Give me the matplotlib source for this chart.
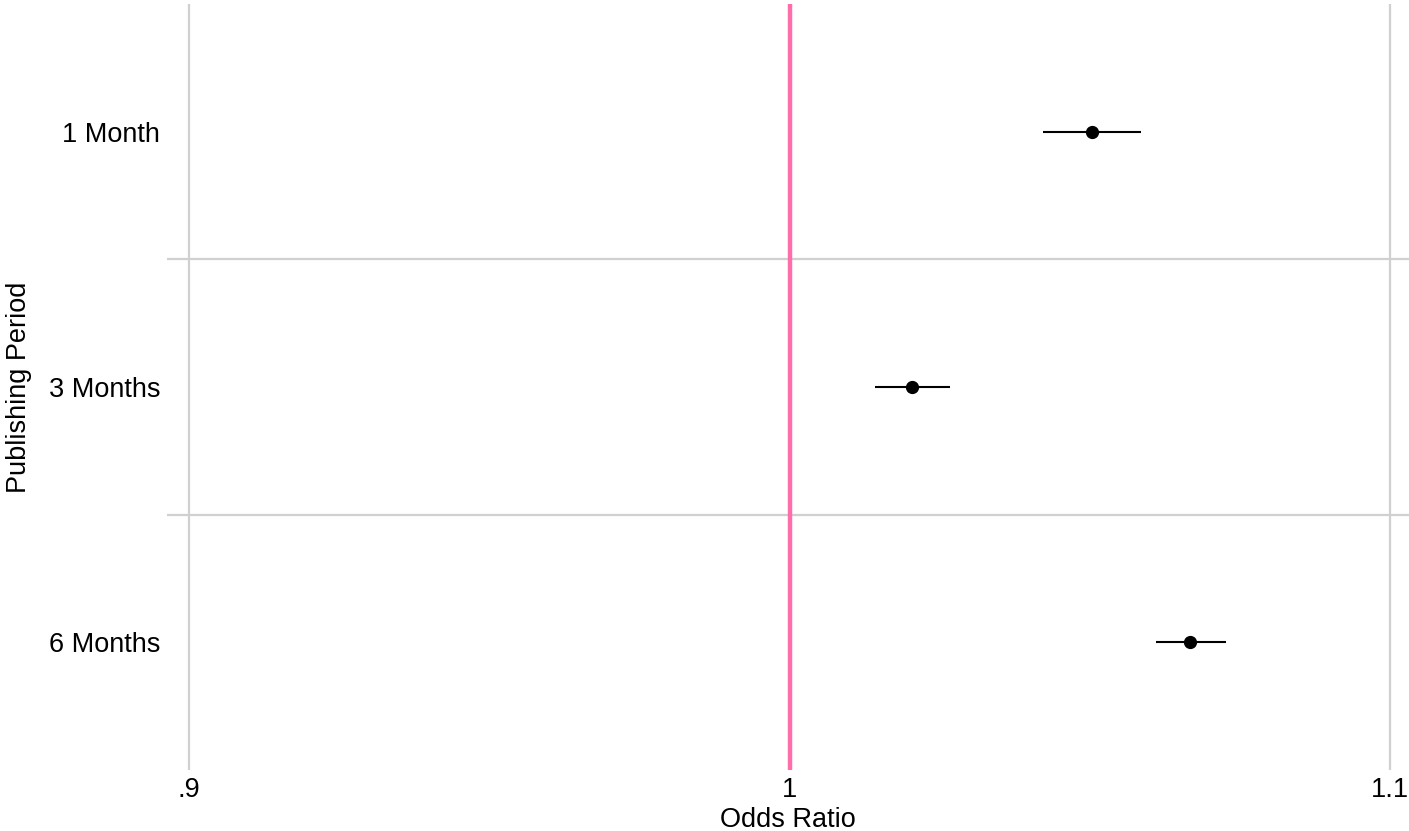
import matplotlib
matplotlib.use("Agg")
import matplotlib.pyplot as plt

categories = ["1 Month", "3 Months", "6 Months"]
odds_ratio = [1.0504, 1.0204, 1.0667]
ci_low = [1.0422, 1.0142, 1.0610]
ci_high = [1.0585, 1.0267, 1.0727]
xticks = [0.9, 1.0, 1.1]
xtick_labels = [".9", "1", "1.1"]

plt.rcParams['font.family'] = ['Liberation Sans', 'DejaVu Sans']
W, H, DPI = 1409, 831, 100
FS = 19.5
fig = plt.figure(figsize=(W / DPI, H / DPI), dpi=DPI)
ax = fig.add_axes([167 / W, 1 - 770 / H, (1409 - 167) / W, (770 - 4) / H])

ypos = list(range(1, len(categories) + 1))
ax.set_ylim(len(categories) + 0.5, 0.5)
ax.set_xlim(0.89634, 1.10316)

# grid
for x in xticks:
    if x != 1.0:
        ax.axvline(x, color="#d0d0d0", lw=1.6, zorder=0)
for y in [1.5, 2.5]:
    ax.axhline(y, color="#d0d0d0", lw=1.6, zorder=0)
ax.axvline(1.0, color="#ff6eaa", lw=3.2, zorder=1)

xerr = [[o - l for o, l in zip(odds_ratio, ci_low)], [h - o for o, h in zip(odds_ratio, ci_high)]]
ax.errorbar(odds_ratio, ypos, xerr=xerr, fmt="o", color="black", ms=8.5,
            elinewidth=1.5, capsize=0, zorder=3)

ax.set_xticks(xticks)
ax.set_xticklabels(xtick_labels)
ax.set_yticks(ypos)
ax.set_yticklabels(categories)
ax.tick_params(axis="both", length=0, labelsize=FS, colors="black")
ax.tick_params(axis="x", pad=5)
ax.tick_params(axis="y", pad=5)
for s in ax.spines.values():
    s.set_visible(False)
ax.set_xlabel("Odds Ratio", fontsize=FS, labelpad=3)
ax.set_ylabel("Publishing Period", fontsize=FS, labelpad=12)

fig.savefig("out.png", dpi=DPI)
